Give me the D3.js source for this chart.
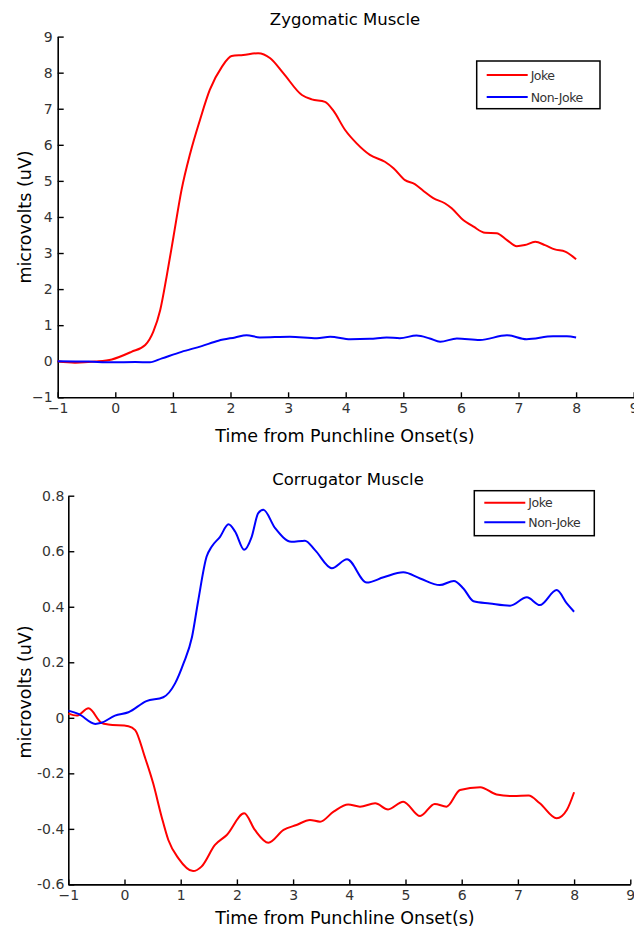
<!DOCTYPE html>
<html>
<head>
<meta charset="utf-8">
<script src="https://cdn.jsdelivr.net/npm/d3@7"></script>
<style>
  body { margin: 0; background: #fff; }
  svg { display: block; font-family: "DejaVu Sans", Verdana, sans-serif; }
</style>
</head>
<body>
<svg id="chart"></svg>
<script>
const width = 634, height = 930;

// Zygomatic panel data
const zygXTicks = [-1, 0, 1, 2, 3, 4, 5, 6, 7, 8, 9];
const zygYTicks = [-1, 0, 1, 2, 3, 4, 5, 6, 7, 8, 9];
const zygJokeT = [-1, -0.7, -0.35, -0.06, 0.28, 0.52, 0.66, 0.78, 0.89, 1.01, 1.15, 1.30, 1.47, 1.64, 1.85, 2.02, 2.22, 2.48, 2.69, 2.92, 3.24, 3.41, 3.64, 3.78, 3.99, 4.19, 4.42, 4.68, 4.83, 5.03, 5.20, 5.35, 5.52, 5.72, 5.84, 6.01, 6.22, 6.42, 6.62, 6.80, 6.97, 7.11, 7.29, 7.46, 7.63, 7.81, 8.0];
const zygJokeV = [0, -0.04, -0.01, 0.05, 0.26, 0.45, 0.82, 1.42, 2.34, 3.45, 4.75, 5.76, 6.69, 7.52, 8.16, 8.46, 8.49, 8.54, 8.40, 7.98, 7.38, 7.26, 7.19, 6.96, 6.41, 6.04, 5.72, 5.53, 5.35, 5.02, 4.91, 4.72, 4.52, 4.38, 4.24, 3.96, 3.73, 3.56, 3.55, 3.36, 3.19, 3.22, 3.31, 3.22, 3.10, 3.04, 2.83];
const zygNonJokeT = [-1, -0.47, -0.06, 0.35, 0.6, 0.81, 1.15, 1.50, 1.79, 2.08, 2.28, 2.51, 3.03, 3.50, 3.73, 4.08, 4.42, 4.71, 4.94, 5.23, 5.46, 5.64, 5.93, 6.33, 6.80, 7.14, 7.60, 7.84, 8.0];
const zygNonJokeV = [0, -0.01, -0.03, -0.02, -0.03, 0.08, 0.26, 0.42, 0.57, 0.66, 0.72, 0.66, 0.68, 0.64, 0.68, 0.61, 0.62, 0.66, 0.64, 0.71, 0.63, 0.54, 0.63, 0.59, 0.72, 0.61, 0.69, 0.69, 0.66];

// Corrugator panel data
const corXTicks = [-1, 0, 1, 2, 3, 4, 5, 6, 7, 8, 9];
const corYTicks = [-0.6, -0.4, -0.2, 0, 0.2, 0.4, 0.6, 0.8];
const corJokeT = [-1, -0.85, -0.64, -0.41, -0.29, 0.07, 0.19, 0.36, 0.51, 0.66, 0.78, 0.96, 1.22, 1.37, 1.61, 1.82, 2.13, 2.32, 2.56, 2.83, 3.06, 3.30, 3.48, 3.72, 3.98, 4.19, 4.46, 4.69, 4.96, 5.26, 5.52, 5.73, 5.97, 6.33, 6.62, 6.92, 7.19, 7.39, 7.69, 7.87, 8.0];
const corJokeV = [0.015, 0.008, 0.034, -0.018, -0.024, -0.03, -0.044, -0.14, -0.236, -0.356, -0.44, -0.506, -0.552, -0.536, -0.458, -0.422, -0.344, -0.404, -0.45, -0.404, -0.386, -0.368, -0.374, -0.338, -0.312, -0.32, -0.308, -0.33, -0.302, -0.354, -0.31, -0.32, -0.26, -0.25, -0.276, -0.282, -0.28, -0.308, -0.362, -0.332, -0.268];
const corNonJokeT = [-1, -0.82, -0.52, -0.41, -0.17, 0.07, 0.39, 0.69, 0.90, 1.05, 1.20, 1.31, 1.46, 1.55, 1.70, 1.85, 1.97, 2.13, 2.26, 2.38, 2.47, 2.68, 2.97, 3.21, 3.39, 3.69, 3.96, 4.31, 4.61, 4.96, 5.26, 5.61, 5.86, 6.03, 6.21, 6.50, 6.86, 7.16, 7.39, 7.69, 7.87, 8.0];
const corNonJokeV = [0.026, 0.014, -0.022, -0.018, 0.008, 0.020, 0.06, 0.074, 0.124, 0.196, 0.29, 0.42, 0.58, 0.616, 0.652, 0.697, 0.67, 0.605, 0.65, 0.737, 0.749, 0.683, 0.634, 0.638, 0.604, 0.539, 0.571, 0.487, 0.506, 0.524, 0.502, 0.478, 0.493, 0.466, 0.42, 0.412, 0.404, 0.434, 0.406, 0.46, 0.412, 0.382];

const seriesNames = ["Joke", "Non-Joke"];
const seriesColors = ["#ff0000", "#0000ff"];

const svg = d3.select("#chart")
    .attr("width", width)
    .attr("height", height)
    .style("background", "#fff");

function drawPanel(p) {
    const x = d3.scaleLinear().domain([-1, 9]).range(p.xRange);
    const y = d3.scaleLinear().domain(p.yDomain).range(p.yRange);
    const g = svg.append("g");

    // Axes (ticks point inward, no box)
    const xAxis = g.append("g")
        .attr("transform", `translate(0, ${p.yRange[0]})`)
        .call(d3.axisBottom(x).tickValues(p.xTicks).tickSize(-5).tickSizeOuter(0).tickPadding(6).tickFormat(d3.format("d")));
    const yAxis = g.append("g")
        .attr("transform", `translate(${p.xRange[0]}, 0)`)
        .call(d3.axisLeft(y).tickValues(p.yTicks).tickSize(-6).tickSizeOuter(0).tickPadding(p.yPad).tickFormat(p.yFormat));
    [xAxis, yAxis].forEach(a => {
        a.select(".domain").attr("stroke", "#000").attr("stroke-width", 1.6);
        a.selectAll(".tick line").attr("stroke", "#000").attr("stroke-width", 1.4);
        a.selectAll(".tick text").attr("fill", "#333").style("font-size", "14px").style("font-family", "DejaVu Sans, Verdana, sans-serif");
    });

    // Lines
    const line = d3.line()
        .x(d => x(d[0]))
        .y(d => y(d[1]))
        .curve(d3.curveMonotoneX);
    p.series.forEach((s, i) => {
        g.append("path")
            .datum(s.t.map((t, k) => [t, s.v[k]]))
            .attr("fill", "none")
            .attr("stroke", seriesColors[i])
            .attr("stroke-width", 2)
            .attr("d", line);
    });

    // Title and labels
    g.append("text")
        .attr("x", p.titleX)
        .attr("y", p.titleY)
        .attr("text-anchor", "middle")
        .style("font-size", "16.5px")
        .attr("fill", "#000")
        .text(p.title);
    g.append("text")
        .attr("x", p.xLabelX)
        .attr("y", p.xLabelY)
        .attr("text-anchor", "middle")
        .style("font-size", "17.5px")
        .attr("fill", "#000")
        .text("Time from Punchline Onset(s)");
    g.append("text")
        .attr("transform", `translate(${p.yLabelX}, ${p.yLabelY}) rotate(-90)`)
        .attr("text-anchor", "middle")
        .style("font-size", "17.5px")
        .attr("fill", "#000")
        .text("microvolts (uV)");

    // Legend
    const lg = p.legend;
    g.append("rect")
        .attr("x", lg.x).attr("y", lg.y)
        .attr("width", lg.w).attr("height", lg.h)
        .attr("fill", "#fff")
        .attr("stroke", "#000")
        .attr("stroke-width", 1.5);
    seriesNames.forEach((name, i) => {
        const ly = lg.y + lg.first + i * lg.step;
        g.append("line")
            .attr("x1", lg.x + 10).attr("x2", lg.x + 51)
            .attr("y1", ly).attr("y2", ly)
            .attr("stroke", seriesColors[i])
            .attr("stroke-width", 2);
        g.append("text")
            .attr("x", lg.x + 54)
            .attr("y", ly + 4.5)
            .style("font-size", "12.5px")
            .style("letter-spacing", "-0.5px")
            .attr("fill", "#333")
            .text(name);
    });
}

drawPanel({
    title: "Zygomatic Muscle", titleX: 345, titleY: 25,
    xRange: [57.7, 633.7], yDomain: [-1, 9], yRange: [397.3, 36.6],
    xTicks: zygXTicks, yTicks: zygYTicks, yFormat: d3.format("d"), yPad: 5,
    xLabelX: 345, xLabelY: 442, yLabelX: 31, yLabelY: 217,
    legend: { x: 476.7, y: 61, w: 123.3, h: 47.7, first: 14, step: 22 },
    series: [{ t: zygJokeT, v: zygJokeV }, { t: zygNonJokeT, v: zygNonJokeV }]
});

drawPanel({
    title: "Corrugator Muscle", titleX: 348, titleY: 485,
    xRange: [68.3, 630.3], yDomain: [-0.6, 0.8], yRange: [884.4, 495.7],
    xTicks: corXTicks, yTicks: corYTicks, yFormat: d => d === 0 ? "0" : d.toFixed(1), yPad: 4,
    xLabelX: 345, xLabelY: 924, yLabelX: 31, yLabelY: 692,
    legend: { x: 474.3, y: 490.7, w: 120, h: 45, first: 12, step: 19.6 },
    series: [{ t: corJokeT, v: corJokeV }, { t: corNonJokeT, v: corNonJokeV }]
});
</script>
</body>
</html>
